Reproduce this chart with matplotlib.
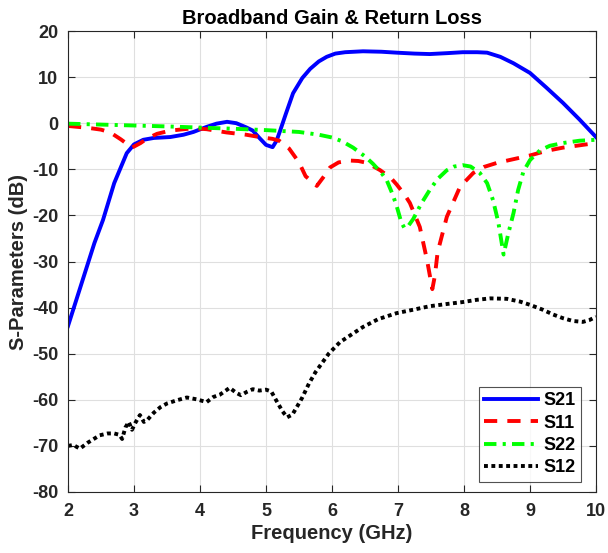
import matplotlib
matplotlib.use("Agg")
import matplotlib.pyplot as plt

# ---- data -----------------------------------------------------------------
f_s21 = [2.0, 2.2, 2.4, 2.53, 2.7, 2.89, 3.0, 3.14, 3.3, 3.55, 3.75, 3.9, 4.1,
         4.25, 4.41, 4.55, 4.7, 4.8, 4.9, 5.0, 5.1, 5.16, 5.21, 5.3, 5.41,
         5.55, 5.67, 5.8, 5.92, 6.05, 6.2, 6.47, 6.75, 6.98, 7.25, 7.48, 7.75,
         7.98, 8.2, 8.35, 8.55, 8.75, 9.0, 9.25, 9.5, 9.75, 10.0]
s21 = [-44, -35, -26, -21, -13, -6.5, -4.6, -3.6, -3.2, -3.0, -2.5, -1.9, -0.8,
       -0.1, 0.3, 0.0, -0.9, -1.6, -3.2, -4.7, -5.2, -3.8, -1.8, 2.0, 6.5,
       9.8, 11.8, 13.4, 14.4, 15.1, 15.4, 15.6, 15.5, 15.3, 15.1, 15.0, 15.2,
       15.4, 15.4, 15.3, 14.4, 13.0, 10.9, 7.7, 4.4, 0.8, -3.0]

f_s11 = [2.0, 2.3, 2.5, 2.64, 2.8, 2.97, 3.1, 3.2, 3.35, 3.55, 3.9, 4.1, 4.4,
         4.7, 4.9, 5.1, 5.2, 5.35, 5.5, 5.6, 5.77, 5.88, 5.97, 6.1, 6.27, 6.4,
         6.53, 6.73, 6.9, 6.98, 7.1, 7.18, 7.33, 7.44, 7.52, 7.56, 7.6, 7.74,
         7.94, 8.14, 8.3, 8.5, 8.75, 9.0, 9.25, 9.5, 9.75, 10.0]
s11 = [-0.6, -1.0, -1.4, -2.0, -3.5, -5.3, -4.3, -3.3, -2.3, -1.6, -1.1, -1.3,
       -2.0, -2.5, -3.0, -3.4, -3.8, -5.5, -8.5, -11.5, -13.6, -11.5, -9.6,
       -8.5, -8.1, -8.2, -8.6, -10.2, -12.0, -13.3, -15.5, -17.3, -22.5,
       -29.7, -36.0, -33.0, -28.0, -20.3, -13.8, -10.8, -9.5, -8.6, -7.8,
       -7.0, -6.0, -5.3, -4.8, -4.3]

f_s22 = [2.0, 2.5, 3.0, 3.5, 3.9, 4.5, 5.0, 5.5, 5.8, 6.0, 6.15, 6.32, 6.5,
         6.62, 6.75, 6.83, 6.92, 6.98, 7.05, 7.1, 7.16, 7.23, 7.35, 7.48, 7.6,
         7.74, 7.85, 7.98, 8.1, 8.24, 8.35, 8.44, 8.52, 8.6, 8.67, 8.75, 8.82,
         8.9, 9.0, 9.15, 9.3, 9.5, 9.75, 10.0]
s22 = [-0.1, -0.3, -0.5, -0.7, -0.9, -1.2, -1.5, -1.9, -2.5, -3.1, -3.9, -5.3,
       -7.2, -8.8, -10.8, -12.4, -15.5, -18.0, -21.5, -22.8, -22.2, -20.8,
       -17.5, -14.5, -12.1, -10.2, -9.4, -9.1, -9.4, -10.8, -13.0, -16.7,
       -21.5, -28.5, -24.0, -19.5, -14.5, -10.5, -8.0, -5.9, -4.9, -4.3,
       -3.8, -3.6]

f_s12 = [2.0, 2.08, 2.18, 2.3, 2.48, 2.6, 2.7, 2.78, 2.82, 2.87, 2.92, 2.97,
         3.02, 3.09, 3.15, 3.2, 3.3, 3.4, 3.5, 3.65, 3.8, 3.95, 4.1, 4.2, 4.3,
         4.45, 4.55, 4.62, 4.72, 4.8, 4.9, 5.0, 5.08, 5.15, 5.25, 5.32, 5.4,
         5.47, 5.55, 5.65, 5.75, 5.85, 5.95, 6.12, 6.3, 6.47, 6.7, 6.98, 7.25,
         7.48, 7.75, 7.98, 8.2, 8.4, 8.65, 8.85, 9.0, 9.2, 9.35, 9.5, 9.65,
         9.8, 9.9, 10.0]
s12 = [-70.0, -69.8, -70.6, -69.3, -67.7, -67.3, -67.3, -67.6, -68.5, -66.0,
       -64.8, -66.5, -65.0, -63.3, -64.8, -64.4, -62.8, -61.6, -60.8, -60.1,
       -59.5, -59.9, -60.5, -59.4, -58.9, -57.4, -58.5, -59.0, -58.2, -57.7,
       -58.0, -57.8, -58.2, -60.0, -62.5, -63.8, -63.2, -61.5, -59.5, -56.5,
       -54.0, -52.0, -50.0, -47.5, -45.8, -44.2, -42.5, -41.2, -40.4, -39.7,
       -39.2, -38.8, -38.3, -38.0, -38.1, -38.7, -39.4, -40.5, -41.5, -42.3,
       -42.9, -43.1, -42.7, -42.0]

x_ticks = [2, 3, 4, 5, 6, 7, 8, 9, 10]
y_ticks = [-80, -70, -60, -50, -40, -30, -20, -10, 0, 10, 20]

# ---- style -----------------------------------------------------------------
plt.rcParams["font.family"] = ["Liberation Sans", "DejaVu Sans"]
plt.rcParams["font.weight"] = "bold"
plt.rcParams["axes.unicode_minus"] = False

LW = 2.8
INK = "#262626"
fig = plt.figure(figsize=(6.08, 5.53), dpi=100)
ax = fig.add_axes([68 / 608, 61 / 553, 528 / 608, 461 / 553])

ax.plot(f_s21, s21, color="#0000ff", lw=LW, label="S21")
ax.plot(f_s11, s11, color="#ff0000", lw=LW, dashes=(3.4, 2.6), label="S11")
ax.plot(f_s22, s22, color="#00ff00", lw=LW, dashes=(3.2, 1.6, 0.8, 1.6),
        label="S22")
ax.plot(f_s12, s12, color="black", lw=LW, dashes=(1.0, 0.9), label="S12")

ax.set_xlim(2, 10)
ax.set_ylim(-80, 20)
ax.set_xticks(x_ticks)
ax.set_yticks(y_ticks)
ax.tick_params(direction="in", length=5, width=0.8, labelsize=13,
               top=True, right=True, colors=INK)
ax.tick_params(axis="x", pad=8)
ax.tick_params(axis="y", pad=7)
for lab in ax.get_xticklabels() + ax.get_yticklabels():
    lab.set_fontweight("bold")
for sp in ax.spines.values():
    sp.set_color(INK)
    sp.set_linewidth(0.8)
ax.grid(True, color="#dfdfdf", lw=0.8)
ax.set_axisbelow(True)

ax.set_xlabel("Frequency (GHz)", fontsize=14.5, fontweight="bold",
              color=INK, labelpad=3)
ax.set_ylabel("S-Parameters (dB)", fontsize=14.5, fontweight="bold",
              color=INK, labelpad=3)
ax.set_title("Broadband Gain & Return Loss", fontsize=14.5,
             fontweight="bold", pad=5)

leg = ax.legend(loc="lower right", bbox_to_anchor=(0.972, 0.022),
                fontsize=13, frameon=True, fancybox=False, handlelength=3.0,
                borderpad=0.3, labelspacing=0.3, handletextpad=0.3,
                borderaxespad=0)
leg.get_frame().set_edgecolor(INK)
leg.get_frame().set_linewidth(0.8)
for t in leg.get_texts():
    t.set_fontweight("bold")

fig.savefig("out.png", dpi=100)
